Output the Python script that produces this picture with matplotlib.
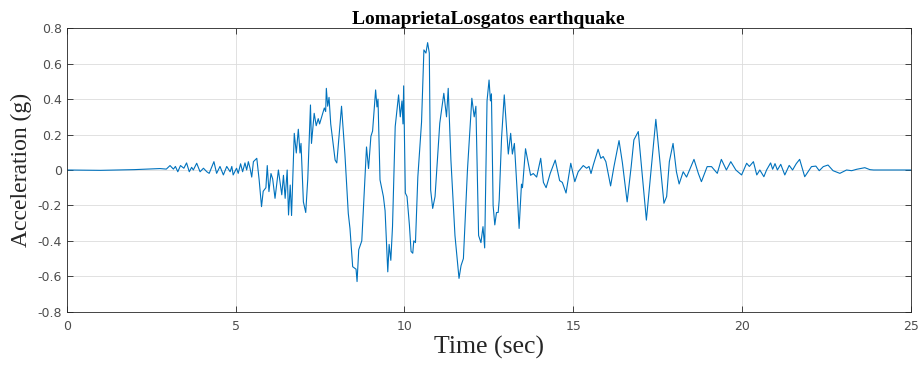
import matplotlib
matplotlib.use("Agg")
import matplotlib.pyplot as plt

# acceleration record (time in s, acceleration in g)
time_s = [
    0.0, 1.0, 2.0, 2.76, 2.95, 3.06, 3.16, 3.22, 3.29, 3.37, 3.47, 3.55, 3.63, 3.7, 3.75,
    3.85, 3.95, 4.05, 4.15, 4.22, 4.36, 4.44, 4.54, 4.64, 4.74, 4.84, 4.89, 4.93, 5.03,
    5.08, 5.15, 5.21, 5.28, 5.33, 5.38, 5.43, 5.48, 5.53, 5.63, 5.70, 5.77, 5.82, 5.90,
    5.94, 5.99, 6.05, 6.10, 6.17, 6.27, 6.37, 6.42, 6.47, 6.53, 6.57, 6.62, 6.66, 6.74,
    6.80, 6.86, 6.91, 6.94, 7.01, 7.08, 7.14, 7.22, 7.25, 7.33, 7.39, 7.45, 7.49, 7.63,
    7.67, 7.69, 7.73, 7.77, 7.82, 7.95, 8.00, 8.14, 8.24, 8.34, 8.39, 8.47, 8.57, 8.60,
    8.65, 8.74, 8.88, 8.94, 9.01, 9.06, 9.15, 9.19, 9.22, 9.28, 9.38, 9.43, 9.51, 9.55,
    9.60, 9.65, 9.73, 9.83, 9.88, 9.93, 9.96, 9.98, 10.03, 10.08, 10.15, 10.2, 10.25,
    10.28, 10.33, 10.40, 10.51, 10.58, 10.64, 10.69, 10.74, 10.78, 10.84, 10.91, 11.05,
    11.17, 11.25, 11.30, 11.38, 11.50, 11.62, 11.68, 11.75, 11.87, 12.0, 12.07, 12.12,
    12.2, 12.27, 12.33, 12.38, 12.45, 12.51, 12.55, 12.58, 12.63, 12.68, 12.73, 12.78,
    12.81, 12.88, 12.96, 13.03, 13.08, 13.15, 13.2, 13.26, 13.33, 13.40, 13.47, 13.5,
    13.59, 13.67, 13.74, 13.82, 13.92, 14.04, 14.12, 14.2, 14.32, 14.47, 14.6, 14.68,
    14.79, 14.93, 15.05, 15.15, 15.3, 15.4, 15.47, 15.53, 15.6, 15.74, 15.82, 15.89,
    15.97, 16.11, 16.21, 16.36, 16.46, 16.6, 16.72, 16.8, 16.93, 17.17, 17.45, 17.69,
    17.77, 17.85, 17.96, 18.06, 18.14, 18.26, 18.36, 18.58, 18.71, 18.8, 18.97, 19.1,
    19.27, 19.39, 19.54, 19.67, 19.82, 19.99, 20.14, 20.22, 20.34, 20.44, 20.53, 20.65,
    20.73, 20.85, 20.91, 20.98, 21.05, 21.15, 21.27, 21.4, 21.5, 21.61, 21.71, 21.86,
    22.06, 22.19, 22.29, 22.41, 22.55, 22.7, 22.9, 23.1, 23.25, 23.4, 23.64, 23.79,
    23.9, 25.0,
]
accel_g = [
    0.0, -0.002, 0.002, 0.008, 0.005, 0.025, 0.005, 0.02, -0.01, 0.025, 0.01, 0.04, -0.01,
    0.015, 0.0, 0.038, -0.01, 0.01, -0.01, -0.019, 0.047, -0.019, 0.02, -0.028, 0.02,
    -0.01, 0.02, -0.028, 0.01, -0.019, 0.035, -0.01, 0.04, 0.0, 0.047, 0.01, -0.04, 0.047,
    0.066, -0.056, -0.207, -0.12, -0.10, 0.025, -0.122, -0.02, -0.05, -0.16, 0.0, -0.14,
    -0.03, -0.16, 0.0, -0.254, -0.085, -0.257, 0.207, 0.096, 0.23, 0.096, 0.15, -0.18,
    -0.24, -0.05, 0.367, 0.15, 0.32, 0.25, 0.29, 0.26, 0.35, 0.33, 0.461, 0.36, 0.41,
    0.26, 0.056, 0.04, 0.36, 0.09, -0.245, -0.33, -0.546, -0.56, -0.63, -0.45, -0.40,
    0.13, 0.008, 0.19, 0.22, 0.452, 0.356, 0.40, -0.056, -0.15, -0.23, -0.575, -0.42,
    -0.51, -0.32, 0.245, 0.424, 0.30, 0.39, 0.26, 0.475, -0.13, -0.15, -0.31, -0.46,
    -0.47, -0.40, -0.41, -0.04, 0.27, 0.678, 0.66, 0.719, 0.66, -0.113, -0.217, -0.15,
    0.264, 0.433, 0.30, 0.461, 0.056, -0.37, -0.612, -0.54, -0.50, 0.0, 0.405, 0.30,
    0.36, -0.37, -0.41, -0.32, -0.44, 0.39, 0.508, 0.39, 0.43, -0.20, -0.31, -0.24,
    -0.24, -0.17, 0.18, 0.424, 0.23, 0.09, 0.207, 0.09, 0.15, -0.08, -0.33, -0.08, -0.10,
    0.12, 0.04, -0.03, -0.02, -0.04, 0.066, -0.07, -0.10, -0.02, 0.056, -0.06, -0.07,
    -0.13, 0.038, -0.066, -0.01, 0.025, 0.01, 0.02, -0.02, 0.03, 0.117, 0.066, 0.076,
    0.047, -0.09, 0.02, 0.166, 0.04, -0.18, 0.02, 0.17, 0.217, -0.283, 0.286, -0.188,
    -0.15, 0.047, 0.15, -0.01, -0.079, -0.01, -0.04, 0.06, -0.02, -0.066, 0.019, 0.019,
    -0.019, 0.06, 0.0, 0.047, 0.0, -0.028, 0.038, 0.02, 0.047, -0.028, 0.0, -0.038, 0.0,
    0.04, 0.004, 0.036, 0.0, 0.032, -0.028, 0.026, 0.0, 0.036, 0.06, -0.038, 0.019,
    0.022, -0.004, 0.019, 0.028, -0.004, -0.019, 0.0, -0.004, 0.004, 0.013, 0.002, 0.0,
    0.0,
]
x_ticks = [0, 5, 10, 15, 20, 25]
y_ticks = [-0.8, -0.6, -0.4, -0.2, 0, 0.2, 0.4, 0.6, 0.8]
y_tick_labels = ['-0.8', '-0.6', '-0.4', '-0.2', '0', '0.2', '0.4', '0.6', '0.8']

fig = plt.figure(figsize=(9.19, 3.66), dpi=100)
ax = fig.add_axes([0.0726, 0.1484, 0.9184, 0.7743])

ax.plot(time_s, accel_g, color='#0072BD', linewidth=0.8)

ax.set_xlim(0, 25)
ax.set_ylim(-0.8, 0.8)
ax.set_xticks(x_ticks)
ax.set_yticks(y_ticks)
ax.set_yticklabels(y_tick_labels)

# matlab-like look
ax.grid(True, color='#dcdcdc', linewidth=0.6)
ax.set_axisbelow(True)
ax.tick_params(direction='in', length=4, width=0.6, colors='#262626',
               labelsize=9, top=True, right=True, labelcolor='#4d4d4d')
ax.tick_params(axis='x', pad=6)
for s in ax.spines.values():
    s.set_color('#262626')
    s.set_linewidth(0.6)

ax.set_xlabel('Time (sec)', fontfamily='Liberation Serif', fontsize=18.5,
              color='#262626', labelpad=2)
ax.set_ylabel('Acceleration (g)', fontfamily='Liberation Serif', fontsize=17, color='#262626')
ax.set_title('LomaprietaLosgatos earthquake', fontfamily='Liberation Serif',
             fontsize=14, fontweight='bold', pad=3)

fig.savefig('out.png', dpi=100)
